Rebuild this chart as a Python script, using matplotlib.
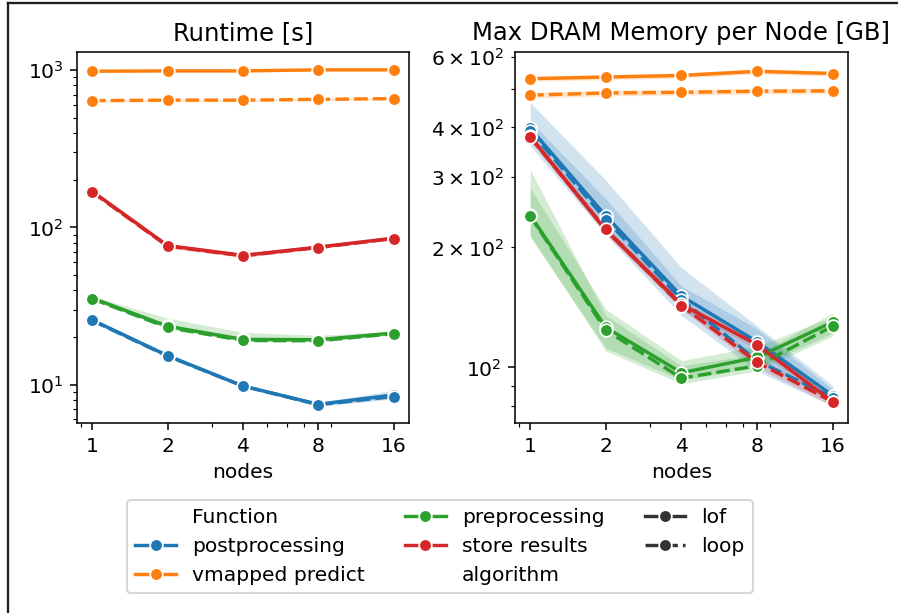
import matplotlib
matplotlib.use("Agg")
import matplotlib.pyplot as plt
from matplotlib.lines import Line2D

plt.rcParams["font.size"] = 10.4

NODES = [1, 2, 4, 8, 16]
FUNCTIONS = ["postprocessing", "vmapped predict", "preprocessing", "store results"]
ALGORITHMS = ["lof", "loop"]
COLORS = ["#1f77b4", "#ff7f0e", "#2ca02c", "#d62728"]

# Runtime [s] - mean, lower, upper of the band
RT_POST_LOF = [25.8, 15.3, 9.8, 7.5, 8.6]
RT_POST_LOF_LO = [25.2, 15.0, 9.6, 7.3, 8.3]
RT_POST_LOF_HI = [26.4, 15.6, 10.0, 7.7, 9.2]
RT_POST_LOOP = [25.6, 15.2, 9.8, 7.45, 8.4]
RT_POST_LOOP_LO = [25.0, 14.9, 9.6, 7.3, 8.1]
RT_POST_LOOP_HI = [26.2, 15.5, 10.0, 7.6, 8.8]

RT_VMAP_LOF = [985, 990, 990, 1005, 1005]
RT_VMAP_LOF_LO = [970, 975, 975, 990, 990]
RT_VMAP_LOF_HI = [1000, 1005, 1005, 1020, 1020]
RT_VMAP_LOOP = [640, 645, 645, 652, 660]
RT_VMAP_LOOP_LO = [630, 635, 635, 642, 650]
RT_VMAP_LOOP_HI = [650, 655, 655, 662, 670]

RT_PRE_LOF = [35.6, 23.5, 19.4, 19.3, 21.3]
RT_PRE_LOF_LO = [34.8, 22.9, 19.0, 18.9, 20.9]
RT_PRE_LOF_HI = [36.5, 26.5, 21.5, 20.6, 21.8]
RT_PRE_LOOP = [35.2, 23.1, 19.1, 19.0, 21.1]
RT_PRE_LOOP_LO = [34.5, 22.7, 18.8, 18.7, 20.7]
RT_PRE_LOOP_HI = [36.0, 24.5, 19.8, 19.5, 21.6]

RT_STORE_LOF = [170, 76.7, 66.4, 75, 85.5]
RT_STORE_LOF_LO = [165, 74.5, 64.5, 73.5, 84]
RT_STORE_LOF_HI = [175, 79, 68.5, 76.5, 87]
RT_STORE_LOOP = [168, 76, 66, 74.5, 85]
RT_STORE_LOOP_LO = [164, 74, 64.5, 73, 83.5]
RT_STORE_LOOP_HI = [172, 78, 67.5, 76, 86.5]

# Max DRAM memory per node [GB]
MEM_POST_LOF = [398, 240, 151, 116, 85]
MEM_POST_LOF_LO = [375, 225, 140, 105, 82]
MEM_POST_LOF_HI = [415, 265, 160, 125, 88]
MEM_POST_LOOP = [392, 235, 148, 104, 84]
MEM_POST_LOOP_LO = [360, 215, 135, 98, 80]
MEM_POST_LOOP_HI = [462, 295, 178, 127, 90]

MEM_VMAP_LOF = [530, 535, 540, 553, 546]
MEM_VMAP_LOF_LO = [522, 527, 532, 545, 538]
MEM_VMAP_LOF_HI = [538, 543, 548, 561, 554]
MEM_VMAP_LOOP = [482, 488, 490, 493, 494]
MEM_VMAP_LOOP_LO = [474, 480, 482, 485, 486]
MEM_VMAP_LOOP_HI = [490, 496, 498, 501, 502]

MEM_PRE_LOF = [241, 126, 97, 106, 130]
MEM_PRE_LOF_LO = [212, 112, 93, 100, 122]
MEM_PRE_LOF_HI = [282, 140, 104, 113, 134]
MEM_PRE_LOOP = [240, 124, 94, 101, 127]
MEM_PRE_LOOP_LO = [215, 110, 91, 98, 120]
MEM_PRE_LOOP_HI = [314, 135, 101, 108, 137]

MEM_STORE_LOF = [380, 221, 144, 114, 82]
MEM_STORE_LOF_LO = [372, 216, 141, 111, 80]
MEM_STORE_LOF_HI = [388, 226, 147, 117, 84]
MEM_STORE_LOOP = [378, 222, 143, 103, 82]
MEM_STORE_LOOP_LO = [370, 217, 140, 100, 80]
MEM_STORE_LOOP_HI = [386, 227, 146, 106, 84]

RUNTIME = {
    "postprocessing": [(RT_POST_LOF, RT_POST_LOF_LO, RT_POST_LOF_HI),
                       (RT_POST_LOOP, RT_POST_LOOP_LO, RT_POST_LOOP_HI)],
    "vmapped predict": [(RT_VMAP_LOF, RT_VMAP_LOF_LO, RT_VMAP_LOF_HI),
                        (RT_VMAP_LOOP, RT_VMAP_LOOP_LO, RT_VMAP_LOOP_HI)],
    "preprocessing": [(RT_PRE_LOF, RT_PRE_LOF_LO, RT_PRE_LOF_HI),
                      (RT_PRE_LOOP, RT_PRE_LOOP_LO, RT_PRE_LOOP_HI)],
    "store results": [(RT_STORE_LOF, RT_STORE_LOF_LO, RT_STORE_LOF_HI),
                      (RT_STORE_LOOP, RT_STORE_LOOP_LO, RT_STORE_LOOP_HI)],
}
MEMORY = {
    "postprocessing": [(MEM_POST_LOF, MEM_POST_LOF_LO, MEM_POST_LOF_HI),
                       (MEM_POST_LOOP, MEM_POST_LOOP_LO, MEM_POST_LOOP_HI)],
    "vmapped predict": [(MEM_VMAP_LOF, MEM_VMAP_LOF_LO, MEM_VMAP_LOF_HI),
                        (MEM_VMAP_LOOP, MEM_VMAP_LOOP_LO, MEM_VMAP_LOOP_HI)],
    "preprocessing": [(MEM_PRE_LOF, MEM_PRE_LOF_LO, MEM_PRE_LOF_HI),
                      (MEM_PRE_LOOP, MEM_PRE_LOOP_LO, MEM_PRE_LOOP_HI)],
    "store results": [(MEM_STORE_LOF, MEM_STORE_LOF_LO, MEM_STORE_LOF_HI),
                      (MEM_STORE_LOOP, MEM_STORE_LOOP_LO, MEM_STORE_LOOP_HI)],
}

DASHES_LOOP = (4, 1.5)
ESTILO = dict(marker="o", markersize=6.5, markeredgecolor="white",
              markeredgewidth=0.9, linewidth=1.75)


def desenhar_painel(ax, dados, titulo):
    for func, cor in zip(FUNCTIONS, COLORS):
        for alg, (media, lo, hi) in zip(ALGORITHMS, dados[func]):
            linha, = ax.plot(NODES, media, color=cor, **ESTILO)
            if alg == "loop":
                linha.set_dashes(DASHES_LOOP)
            ax.fill_between(NODES, lo, hi, color=cor, alpha=0.2, linewidth=0)
    ax.set_xscale("log")
    ax.set_yscale("log")
    ax.set_xticks(NODES)
    ax.set_xticklabels([str(n) for n in NODES])
    ax.set_xlabel("nodes")
    ax.set_title(titulo)


fig = plt.figure(figsize=(898 / 140, 613 / 140), dpi=140)
ax1 = fig.add_axes([0.0857, 0.310, 0.3697, 0.6052])
ax2 = fig.add_axes([0.5735, 0.310, 0.3708, 0.6052])

desenhar_painel(ax1, RUNTIME, "Runtime [s]")
desenhar_painel(ax2, MEMORY, "Max DRAM Memory per Node [GB]")

# legenda no estilo seaborn (hue + style)
vazio = Line2D([], [], linestyle="none")
handles = [vazio]
labels = ["Function"]
for func, cor in zip(FUNCTIONS, COLORS):
    handles.append(Line2D([], [], color=cor, **ESTILO))
    labels.append(func)
handles.append(vazio)
labels.append("algorithm")
h_lof = Line2D([], [], color="#333333", **ESTILO)
h_loop = Line2D([], [], color="#333333", dashes=DASHES_LOOP, **ESTILO)
handles += [h_lof, h_loop]
labels += ALGORITHMS

fig.legend(handles, labels, loc="center", bbox_to_anchor=(0.49, 0.108), ncol=3)

# moldura do recorte original (topo e esquerda)
fig.add_artist(Line2D([0.009, 1.0], [0.995, 0.995], color="#222222", linewidth=1.2,
                      transform=fig.transFigure))
fig.add_artist(Line2D([0.009, 0.009], [0.0, 0.995], color="#222222", linewidth=1.2,
                      transform=fig.transFigure))

fig.savefig("out.png", dpi=140)
